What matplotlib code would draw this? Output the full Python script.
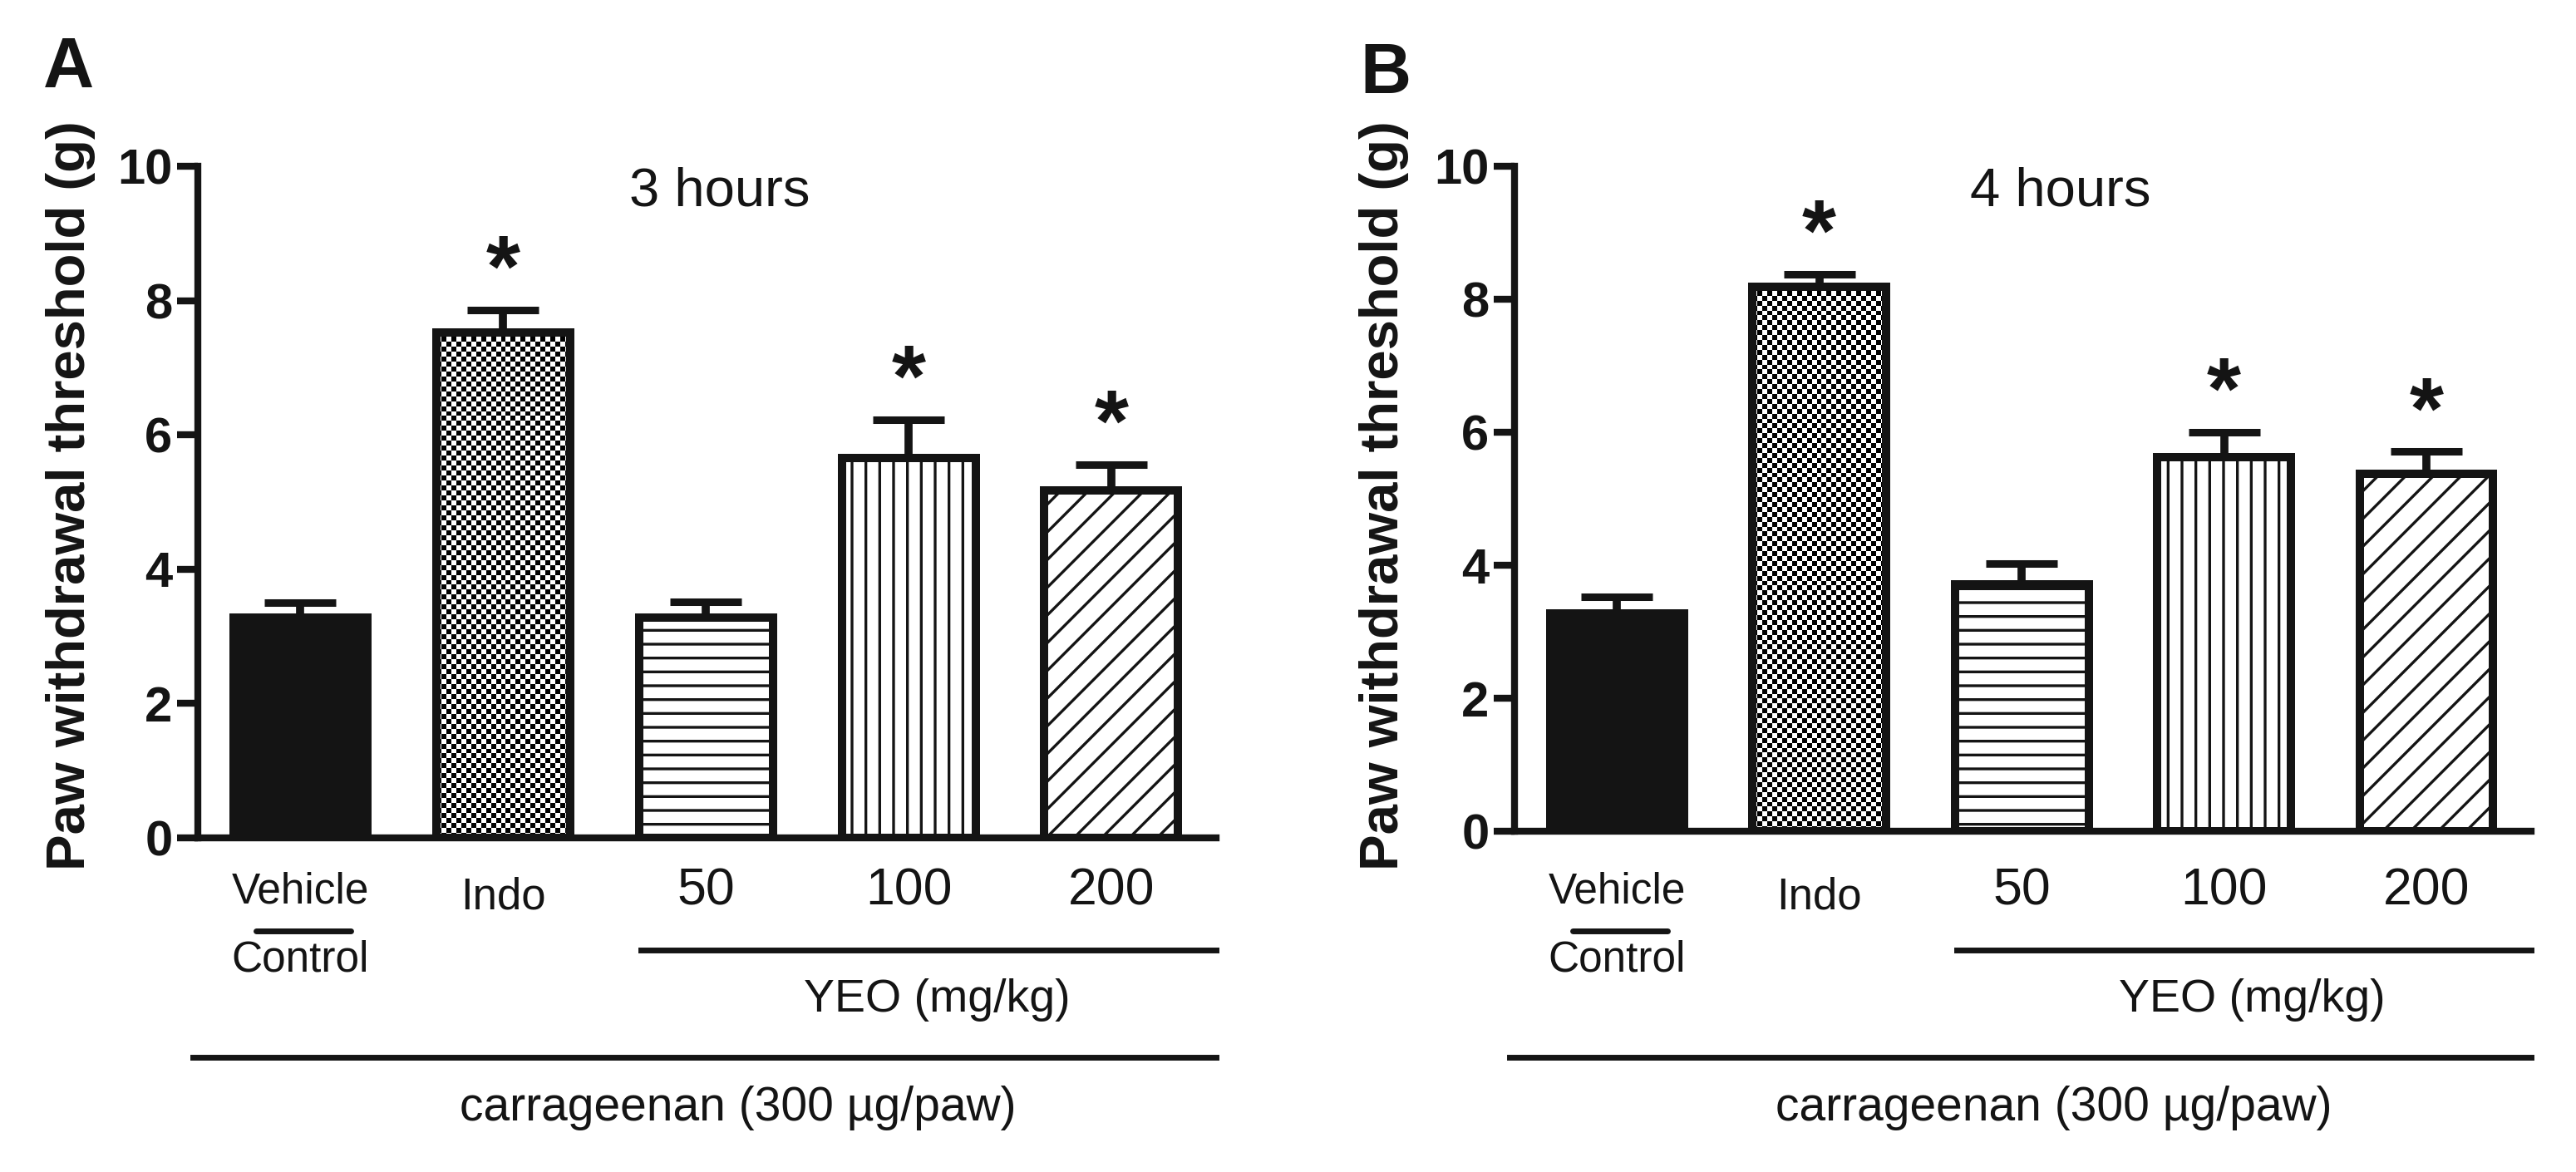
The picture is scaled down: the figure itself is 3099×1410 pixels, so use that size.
import numpy as np
import matplotlib
matplotlib.use("Agg")
import matplotlib.pyplot as plt
import matplotlib.transforms as mtransforms

plt.rcParams['font.family'] = ['Liberation Sans', 'DejaVu Sans']
plt.rcParams['hatch.linewidth'] = 2.4

# data
groups = ['Vehicle', 'Indo', '50', '100', '200']
mean_3h = [3.28, 7.53, 3.28, 5.65, 5.17]
sem_3h = [0.22, 0.33, 0.24, 0.58, 0.39]
mean_4h = [3.28, 8.19, 3.71, 5.62, 5.38]
sem_4h = [0.25, 0.19, 0.31, 0.38, 0.33]
star_3h = [False, True, False, True, True]
star_4h = [False, True, False, True, True]
yticks = [0, 2, 4, 6, 8, 10]

INK = '#141414'
hatches = [None, 'checker', '-', '|', '/']

fig = plt.figure(figsize=(30.99, 14.10), dpi=100)
W, H = 3099, 1410


def fy(ypix):
    return 1 - ypix / H


def panel(rect, means, sems, stars, title, letter, letter_xy, ylab_x, base):
    ax = fig.add_axes(rect)
    x = np.arange(len(groups))
    w = 0.66
    bars = ax.bar(x, means, w, color='white', edgecolor=INK, linewidth=7.2, zorder=3)
    for b, h in zip(bars, hatches):
        if h is None:
            b.set_facecolor(INK)
        elif h == 'checker':
            # fine checkerboard fill clipped to the bar
            x0, y0 = b.get_x(), b.get_y()
            bw, bh = b.get_width(), b.get_height()
            nx = 27
            ny = int(round(bh * 13.5))
            chk = (np.indices((ny, nx)).sum(axis=0) % 2).astype(float)
            im = ax.imshow(chk, cmap='gray', extent=(x0, x0 + bw, y0, y0 + bh),
                           interpolation='nearest', aspect='auto', zorder=2)
            im.set_clip_path(b)
            b.set_facecolor('none')
        else:
            b.set_hatch(h)
    ax.errorbar(x, means, yerr=[np.zeros(len(x)), sems], fmt='none', ecolor=INK,
                elinewidth=7, capsize=31, capthick=6.5, zorder=2)
    for xi, m, s, st in zip(x, means, sems, stars):
        if st:
            ax.text(xi, m + s + 0.2, '*', ha='center', va='baseline',
                    fontsize=76, fontweight='bold', color=INK, zorder=4)

    ax.set_xlim(-0.506, 4.517)
    ax.set_ylim(0, 10)
    ax.set_xticks([])
    ax.set_yticks(yticks)
    ax.set_yticklabels([str(t) for t in yticks], fontsize=43, fontweight='bold')
    ax.tick_params(axis='y', direction='out', length=18, width=6, pad=4, colors=INK)
    for sp in ['top', 'right']:
        ax.spines[sp].set_visible(False)
    for sp in ['left', 'bottom']:
        ax.spines[sp].set_linewidth(6)
        ax.spines[sp].set_color(INK)

    ax.text(title[1], 9.62, title[0], ha='center', va='center', fontsize=47, color=INK)

    tr = mtransforms.blended_transform_factory(ax.transData, fig.transFigure)
    ax.text(0, fy(base + 73), 'Vehicle', transform=tr, ha='center', va='center',
            fontsize=37, color=INK)
    ax.plot([-0.22, 0.25], [fy(base + 120)] * 2, transform=tr, color=INK, lw=5,
            solid_capstyle='round', clip_on=False)
    ax.text(0, fy(base + 155), 'Control', transform=tr, ha='center', va='center',
            fontsize=37, color=INK)
    ax.text(1, fy(base + 80), groups[1], transform=tr, ha='center', va='center',
            fontsize=38, color=INK)
    for xi in range(2, 5):
        ax.text(xi, fy(base + 72), groups[xi], transform=tr, ha='center', va='center',
                fontsize=45, color=INK)
    ax.plot([1.68, 4.517], [fy(base + 143)] * 2, transform=tr, color=INK, lw=5,
            clip_on=False)
    ax.text(3.14, fy(base + 203), 'YEO (mg/kg)', transform=tr, ha='center', va='center',
            fontsize=40, color=INK)
    ax.plot([-0.53, 4.517], [fy(base + 272)] * 2, transform=tr, color=INK, lw=5,
            clip_on=False)
    ax.text(2.16, fy(base + 333), 'carrageenan (300 µg/paw)', transform=tr,
            ha='center', va='center', fontsize=41, color=INK)

    fig.text(letter_xy[0] / W, fy(letter_xy[1]), letter, ha='left', va='baseline',
             fontsize=61, fontweight='bold', color=INK)
    fig.text(ylab_x / W, fy(base - 404), 'Paw withdrawal threshold (g)', rotation=90,
             ha='center', va='center', fontsize=47, fontweight='bold', color=INK)
    return ax


panel([238 / W, fy(1008), 1225 / W, 808 / H], mean_3h, sem_3h, star_3h,
      ('3 hours', 2.07), 'A', (52, 105), 85, 1000)
panel([1822 / W, fy(1000), 1223 / W, 800 / H], mean_4h, sem_4h, star_4h,
      ('4 hours', 2.19), 'B', (1636, 112), 1665, 1000)

fig.savefig('out.png', dpi=100, facecolor='white')
